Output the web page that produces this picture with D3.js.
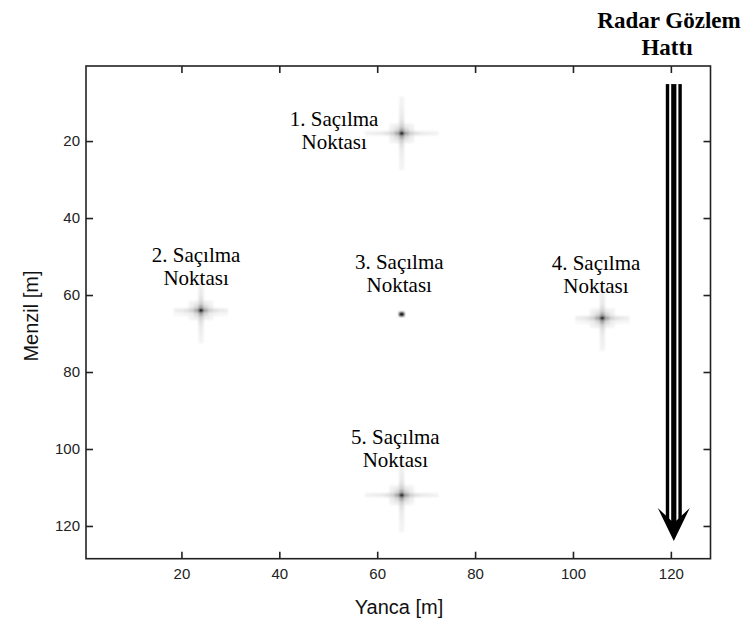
<!DOCTYPE html>
<html>
<head>
<meta charset="utf-8">
<script src="https://cdn.jsdelivr.net/npm/d3@7"></script>
<style>
  html, body { margin: 0; padding: 0; background: #fff; }
  svg { display: block; }
</style>
</head>
<body>
<svg id="chart" width="747" height="626"></svg>
<script>
// Point scatterers: cross-range (Yanca) and range (Menzil) positions in metres
const targetNames = ["1. Saçılma", "2. Saçılma", "3. Saçılma", "4. Saçılma", "5. Saçılma"];
const targetX = [65, 24, 65, 106, 65];
const targetY = [18, 64, 65, 66, 112];
// sidelobe arm half-lengths (in image cells) along each direction
const armX = [7, 5, 0, 5, 7];
const armY = [9, 8, 0, 8, 9];
// grey level of a response cell by its distance from the peak along an arm
const armShade = [1.0, 0.34, 0.18, 0.12, 0.09, 0.08, 0.07, 0.06, 0.05, 0.05];
// weaker off-axis cells around the peak (|dx|,|dy| up to 2)
const haloShade = [[0, 0, 0], [0, 0.14, 0.07], [0, 0.07, 0.05]];

// caption anchors (metres) for each scatterer: centre and first baseline
const labelX = [51.2, 23, 64.5, 104.7, 63.7];
const labelY = [16.1, 51.4, 53.2, 53.5, 98.7];

const tickValues = [20, 40, 60, 80, 100, 120];

const svg = d3.select("#chart");

const x = d3.scaleLinear().domain([0.5, 128.1]).range([86, 710.5]);
const y = d3.scaleLinear().domain([0.5, 128.5]).range([66, 558.7]);
const grey = d3.scaleLinear().domain([0, 1]).range(["#ffffff", "#000000"]);

// build response cells for each scatterer
const cells = [];
targetX.forEach((tx, i) => {
  const ty = targetY[i];
  const seen = new Map();
  const add = (dx, dy, v) => {
    const k = dx + "," + dy;
    if (!seen.has(k) || seen.get(k) < v) seen.set(k, v);
  };
  add(0, 0, armShade[0]);
  for (let d = 1; d <= armX[i]; d++) { add(d, 0, armShade[d]); add(-d, 0, armShade[d]); }
  for (let d = 1; d <= armY[i]; d++) { add(0, d, armShade[d]); add(0, -d, armShade[d]); }
  // thicker horizontal band for the side scatterers
  if (armX[i] > 0 && armX[i] < 6) {
    for (let d = 0; d <= armX[i]; d++) {
      const v = armShade[Math.max(d, 1)] * 0.4;
      add(d, 1, v); add(-d, 1, v);
    }
  }
  if (armX[i] > 0) {
    for (let a = 1; a <= 2; a++) for (let b = 1; b <= 2; b++) {
      const v = haloShade[a][b];
      add(a, b, v); add(-a, b, v); add(a, -b, v); add(-a, -b, v);
    }
  }
  seen.forEach((v, k) => {
    const [dx, dy] = k.split(",").map(Number);
    cells.push({ cx: tx + dx, cy: ty + dy, v });
  });
});

const defs = svg.append("defs");
defs.append("filter").attr("id", "soft")
  .attr("x", "-20%").attr("y", "-20%").attr("width", "140%").attr("height", "140%")
  .append("feGaussianBlur").attr("stdDeviation", 0.9);
defs.append("clipPath").attr("id", "plotClip")
  .append("rect")
  .attr("x", x(0.5)).attr("y", y(0.5))
  .attr("width", x(128.1) - x(0.5)).attr("height", y(128.5) - y(0.5));

const img = svg.append("g").attr("clip-path", "url(#plotClip)")
  .append("g").attr("filter", "url(#soft)");
const cw = x(1) - x(0), ch = y(1) - y(0);
img.selectAll("rect.cell")
  .data(cells.sort((a, b) => a.v - b.v))
  .join("rect")
  .attr("class", "cell")
  .attr("x", d => x(d.cx - 0.5))
  .attr("y", d => y(d.cy - 0.5))
  .attr("width", cw)
  .attr("height", ch)
  .attr("fill", d => grey(d.v));

// axes frame with inward ticks on all four sides
const axisColor = "#222";
const tickLen = 7;
svg.append("rect")
  .attr("x", x(0.5)).attr("y", y(0.5))
  .attr("width", x(128.1) - x(0.5)).attr("height", y(128.5) - y(0.5))
  .attr("fill", "none").attr("stroke", axisColor).attr("stroke-width", 1.6);

const xBottom = d3.axisBottom(x).tickValues(tickValues).tickSizeInner(-tickLen).tickSizeOuter(0).tickPadding(10);
const xTop = d3.axisTop(x).tickValues(tickValues).tickSizeInner(-tickLen).tickSizeOuter(0).tickFormat("");
const yLeft = d3.axisLeft(y).tickValues(tickValues).tickSizeInner(-tickLen).tickSizeOuter(0).tickPadding(6);
const yRight = d3.axisRight(y).tickValues(tickValues).tickSizeInner(-tickLen).tickSizeOuter(0).tickFormat("");

function styleAxis(g) {
  g.select(".domain").remove();
  g.selectAll(".tick line").attr("stroke", axisColor).attr("stroke-width", 1.6);
  g.selectAll(".tick text")
    .attr("fill", "#222")
    .style("font-family", "Arial, 'Liberation Sans', sans-serif")
    .style("font-size", "15px");
}
svg.append("g").attr("transform", `translate(0,${y(128.5)})`).call(xBottom).call(styleAxis);
svg.append("g").attr("transform", `translate(0,${y(0.5)})`).call(xTop).call(styleAxis);
svg.append("g").attr("transform", `translate(${x(0.5)},0)`).call(yLeft).call(styleAxis);
svg.append("g").attr("transform", `translate(${x(128.1)},0)`).call(yRight).call(styleAxis);

// axis titles
svg.append("text")
  .attr("x", 399).attr("y", 614)
  .attr("text-anchor", "middle")
  .style("font-family", "Arial, 'Liberation Sans', sans-serif")
  .style("font-size", "20px")
  .attr("fill", "#111")
  .text("Yanca [m]");
svg.append("text")
  .attr("transform", "translate(38,316) rotate(-90)")
  .attr("text-anchor", "middle")
  .style("font-family", "Arial, 'Liberation Sans', sans-serif")
  .style("font-size", "20px")
  .attr("fill", "#111")
  .text("Menzil [m]");

// scatterer captions
const serif = "'Times New Roman', 'Liberation Serif', serif";
const captions = svg.append("g")
  .style("font-family", serif)
  .style("font-size", "21px")
  .attr("fill", "#000")
  .attr("text-anchor", "middle");
targetNames.forEach((name, i) => {
  const t = captions.append("text")
    .attr("x", x(labelX[i])).attr("y", y(labelY[i]));
  t.append("tspan").attr("x", x(labelX[i])).text(name);
  t.append("tspan").attr("x", x(labelX[i])).attr("dy", 23).text("Noktası");
});

// radar observation line: triple-stroked arrow pointing down the range axis
const lineX = 120.6, lineTop = 5.2, lineTip = 123.9;
const ax = x(lineX);
const tipY = y(lineTip);
const shaftH = tipY - y(lineTop) - 18;
const arrow = svg.append("g");
arrow.append("rect")
  .attr("x", ax - 8).attr("y", y(lineTop))
  .attr("width", 16).attr("height", shaftH)
  .attr("fill", "#000");
[-3.6, 3.6].forEach(off => {
  arrow.append("rect")
    .attr("x", ax + off - 1).attr("y", y(lineTop))
    .attr("width", 2).attr("height", shaftH)
    .attr("fill", "#fff");
});
arrow.append("path")
  .attr("d", `M${ax - 16},${tipY - 33} L${ax},${tipY} L${ax + 16},${tipY - 33} L${ax},${tipY - 18} Z`)
  .attr("fill", "#000");

// title above the arrow
const title = svg.append("text")
  .style("font-family", serif)
  .style("font-size", "23px")
  .style("font-weight", "bold")
  .attr("fill", "#000")
  .attr("text-anchor", "middle");
title.append("tspan").attr("x", 669).attr("y", 28).text("Radar Gözlem");
title.append("tspan").attr("x", 667).attr("y", 55).text("Hattı");
</script>
</body>
</html>
